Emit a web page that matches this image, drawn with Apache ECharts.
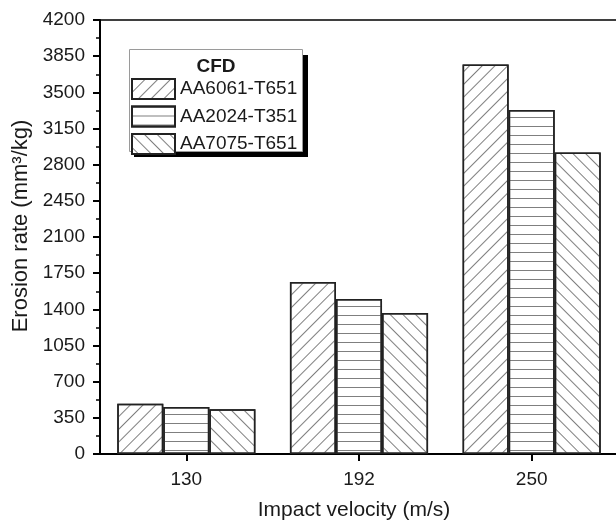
<!DOCTYPE html>
<html>
<head>
<meta charset="utf-8">
<script src="https://cdn.jsdelivr.net/npm/echarts@6/dist/echarts.min.js"></script>
<style>
  html, body { margin: 0; padding: 0; background: #fff; }
  #chart { width: 616px; height: 524px; }
</style>
</head>
<body>
<div id="chart"></div>
<script>
// Impact velocities (m/s) on the category axis
const velocities = ['130', '192', '250'];

// CFD erosion rate (mm³/kg) for each alloy
const aa6061 = [487, 1665, 3769];
const aa2024 = [455, 1500, 3330];
const aa7075 = [432, 1365, 2917];

const seriesNames = ['AA6061-T651', 'AA2024-T351', 'AA7075-T651'];

// Y axis range and step
const yMin = 0;
const yMax = 4200;
const yStep = 350;

const FONT = 'Liberation Sans, Arial, sans-serif';
const INK = '#1a1a1a';

// hatch patterns: forward diagonal, horizontal, back diagonal
function hatch(rotation) {
  return {
    symbol: 'rect',
    symbolSize: 1,
    color: 'rgba(95,95,95,0.8)',
    backgroundColor: null,
    dashArrayX: [1, 0],
    dashArrayY: [1, 7.5],
    rotation: rotation
  };
}
const hatches = [hatch(-Math.PI / 4), hatch(0), hatch(Math.PI / 4)];

function barSeries(name, values, decal) {
  return {
    name: name,
    type: 'bar',
    data: values,
    barGap: '0%',
    barCategoryGap: '20%',
    itemStyle: {
      color: '#ffffff',
      borderColor: '#222',
      borderWidth: 1.5,
      decal: decal
    },
    emphasis: { disabled: true }
  };
}

const chart = echarts.init(document.getElementById('chart'));

chart.setOption({
  animation: false,
  backgroundColor: '#ffffff',
  textStyle: { fontFamily: FONT, color: INK },
  grid: { left: 100, top: 20, right: -2, bottom: 70, containLabel: false, outerBoundsMode: 'none' },
  xAxis: [
    {
      type: 'category',
      data: velocities,
      boundaryGap: true,
      name: 'Impact velocity (m/s)',
      nameLocation: 'middle',
      nameGap: 46,
      nameTextStyle: { fontSize: 21, color: INK, fontFamily: FONT, padding: [0, 10, 0, 0] },
      axisLine: { show: true, lineStyle: { color: '#000', width: 2 } },
      axisTick: { show: true, alignWithLabel: true, length: 7, lineStyle: { color: '#000', width: 2 } },
      axisLabel: { fontSize: 19, color: INK, fontFamily: FONT, margin: 16 },
      splitLine: { show: false }
    },
    {
      type: 'category',
      position: 'top',
      data: velocities,
      axisLine: { show: true, lineStyle: { color: '#000', width: 1.5 } },
      axisTick: { show: false },
      axisLabel: { show: false },
      splitLine: { show: false }
    }
  ],
  yAxis: {
    type: 'value',
    min: yMin,
    max: yMax,
    interval: yStep,
    name: 'Erosion rate (mm³/kg)',
    nameLocation: 'middle',
    nameGap: 68,
    nameTextStyle: { fontSize: 22, color: INK, fontFamily: FONT, padding: [0, 0, 0, 22] },
    axisLine: { show: true, lineStyle: { color: '#000', width: 2 } },
    axisTick: { show: true, length: 7, lineStyle: { color: '#000', width: 2 } },
    minorTick: { show: true, splitNumber: 2, length: 4, lineStyle: { color: '#000', width: 1.5 } },
    axisLabel: {
      fontSize: 19, color: INK, fontFamily: FONT, margin: 15,
      formatter: function (v) { return String(v); }
    },
    splitLine: { show: false }
  },
  legend: {
    orient: 'vertical',
    left: 131,
    top: 78,
    padding: 0,
    itemWidth: 43,
    itemHeight: 20,
    itemGap: 5.5,
    icon: 'rect',
    data: seriesNames,
    textStyle: { fontSize: 19, color: INK, fontFamily: FONT },
    selectedMode: false,
    z: 10
  },
  graphic: [
    {
      type: 'rect',
      z: 5,
      shape: { x: 134, y: 55, width: 174, height: 102 },
      style: { fill: '#000' }
    },
    {
      type: 'rect',
      z: 6,
      shape: { x: 129.5, y: 49.5, width: 173, height: 102 },
      style: { fill: '#fff', stroke: '#9a9a9a', lineWidth: 1 }
    },
    {
      type: 'text',
      z: 7,
      style: {
        text: 'CFD',
        x: 216,
        y: 67,
        align: 'center',
        verticalAlign: 'middle',
        font: 'bold 19px ' + FONT,
        fill: INK
      }
    }
  ],
  series: [
    barSeries(seriesNames[0], aa6061, hatches[0]),
    barSeries(seriesNames[1], aa2024, hatches[1]),
    barSeries(seriesNames[2], aa7075, hatches[2])
  ]
});
</script>
</body>
</html>
